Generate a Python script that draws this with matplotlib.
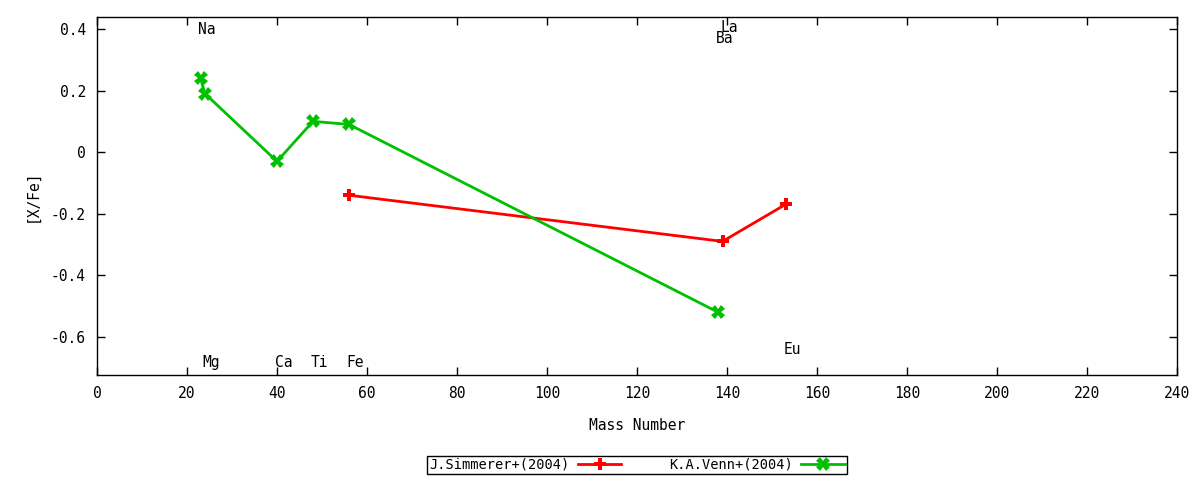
import matplotlib
matplotlib.use("Agg")
import matplotlib.pyplot as plt
from matplotlib.ticker import FuncFormatter

# Data
simmerer_mass = [56, 139, 153]
simmerer_xfe = [-0.14, -0.29, -0.17]
venn_mass = [23, 24, 40, 48, 56, 138]
venn_xfe = [0.24, 0.19, -0.03, 0.10, 0.09, -0.52]

label_names = ["Na", "Mg", "Ca", "Ti", "Fe", "La", "Ba", "Eu"]
label_x = [23, 24, 40, 48, 56, 139, 138, 153]
label_y = [0.40, -0.685, -0.685, -0.685, -0.685, 0.405, 0.37, -0.64]

series_names = ["J.Simmerer+(2004)", "K.A.Venn+(2004)"]

xticks = list(range(0, 241, 20))
yticks = [-0.6, -0.4, -0.2, 0, 0.2, 0.4]

plt.rcParams['font.family'] = ['DejaVu Sans Mono']
fig = plt.figure(figsize=(12, 4.8), dpi=100)
ax = fig.add_axes([97/1200, 1 - 375/480, (1177-97)/1200, (375-17)/480])

ax.plot(simmerer_mass, simmerer_xfe, color='#ff0000', lw=2, marker='P',
        markersize=8.5, markeredgewidth=0, label=series_names[0])
ax.plot(venn_mass, venn_xfe, color='#00c000', lw=2, marker='X',
        markersize=9.5, markeredgewidth=0, label=series_names[1])

for name, x, y in zip(label_names, label_x, label_y):
    ax.text(x - 0.5, y, name, ha='left', va='center', fontsize=10.5)

ax.set_xlim(0, 240)
ax.set_ylim(-0.724, 0.439)
ax.set_xticks(xticks)
ax.set_yticks(yticks)

def yfmt(v, p):
    if abs(v) < 1e-9:
        return "0"
    return f"{v:.1f}"
ax.yaxis.set_major_formatter(FuncFormatter(yfmt))
ax.tick_params(direction='in', top=True, right=True, length=6, width=1,
               labelsize=10.5, pad=8)
for s in ax.spines.values():
    s.set_linewidth(1)

ax.set_xlabel("Mass Number", fontsize=10.5, labelpad=12)
ax.set_ylabel("[X/Fe]", fontsize=10.5, labelpad=8)

leg = fig.legend(loc='center', bbox_to_anchor=(637/1200, 1 - 465/480), ncol=2,
                 markerfirst=False, fancybox=False, edgecolor='black',
                 framealpha=1, fontsize=9.8, handlelength=3.2,
                 columnspacing=3.5, borderpad=0.15, handletextpad=0.6,
                 borderaxespad=0)
leg.get_frame().set_linewidth(1)

fig.savefig("out.png", dpi=100)
